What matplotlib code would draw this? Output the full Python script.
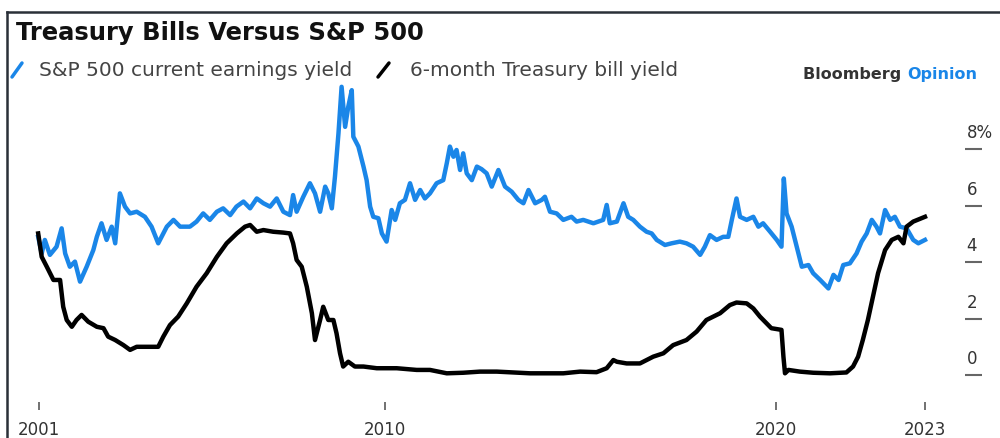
import matplotlib
matplotlib.use("Agg")
import matplotlib.pyplot as plt
from matplotlib.lines import Line2D

plt.rcParams['font.family'] = ['DejaVu Sans']

# S&P 500 current earnings yield (decimal year, %)
spx_year = [2001.13, 2001.22, 2001.30, 2001.43, 2001.60, 2001.73, 2001.82, 2001.94, 2002.07, 2002.20,
            2002.37, 2002.54, 2002.63, 2002.75, 2002.88, 2003.01, 2003.10, 2003.22, 2003.35, 2003.48,
            2003.65, 2003.86, 2004.03, 2004.20, 2004.42, 2004.59, 2004.76, 2005.01, 2005.18, 2005.35,
            2005.52, 2005.70, 2005.86, 2006.04, 2006.20, 2006.38, 2006.55, 2006.72, 2006.89, 2007.06,
            2007.23, 2007.40, 2007.57, 2007.65, 2007.74, 2007.91, 2008.08, 2008.21, 2008.34, 2008.47,
            2008.55, 2008.64, 2008.72, 2008.81, 2008.89, 2008.98, 2009.06, 2009.15, 2009.19, 2009.32,
            2009.45, 2009.53, 2009.62, 2009.70, 2009.83, 2009.92, 2010.04, 2010.17, 2010.26, 2010.38,
            2010.51, 2010.64, 2010.77, 2010.90, 2011.02, 2011.15, 2011.32, 2011.49, 2011.58, 2011.66,
            2011.75, 2011.83, 2011.92, 2012.00, 2012.09, 2012.22, 2012.35, 2012.47, 2012.60, 2012.73,
            2012.90, 2013.07, 2013.24, 2013.41, 2013.54, 2013.67, 2013.84, 2014.01, 2014.09, 2014.22,
            2014.39, 2014.56, 2014.77, 2014.90, 2015.07, 2015.33, 2015.58, 2015.67, 2015.75, 2015.93,
            2016.10, 2016.22, 2016.35, 2016.52, 2016.69, 2016.82, 2016.95, 2017.16, 2017.33, 2017.54,
            2017.71, 2017.88, 2018.06, 2018.18, 2018.31, 2018.48, 2018.65, 2018.78, 2018.87, 2018.99,
            2019.08, 2019.25, 2019.42, 2019.55, 2019.67, 2019.85, 2020.02, 2020.14, 2020.20, 2020.27,
            2020.40, 2020.53, 2020.66, 2020.83, 2020.95, 2021.13, 2021.34, 2021.47, 2021.60, 2021.72,
            2021.89, 2022.06, 2022.19, 2022.32, 2022.45, 2022.57, 2022.66, 2022.79, 2022.92, 2023.04,
            2023.17, 2023.34, 2023.51, 2023.64, 2023.81]
spx_yield = [4.90, 4.31, 4.79, 4.26, 4.55, 5.20, 4.31, 3.84, 4.02, 3.31,
             3.84, 4.43, 4.90, 5.38, 4.79, 5.26, 4.67, 6.44, 5.97, 5.73,
             5.79, 5.61, 5.26, 4.67, 5.26, 5.50, 5.26, 5.26, 5.44, 5.73,
             5.50, 5.79, 5.91, 5.67, 5.97, 6.15, 5.91, 6.26, 6.09, 5.97,
             6.26, 5.79, 5.67, 6.38, 5.79, 6.32, 6.80, 6.44, 5.79, 6.68,
             6.44, 5.91, 7.03, 8.57, 10.22, 8.80, 9.51, 10.10, 8.45, 8.10,
             7.39, 6.91, 5.97, 5.61, 5.56, 5.02, 4.73, 5.85, 5.50, 6.09,
             6.21, 6.80, 6.21, 6.56, 6.26, 6.44, 6.80, 6.91, 7.51, 8.10,
             7.74, 7.98, 7.27, 7.86, 7.15, 6.91, 7.39, 7.30, 7.15, 6.68,
             7.27, 6.68, 6.50, 6.21, 6.09, 6.56, 6.09, 6.21, 6.32, 5.79,
             5.73, 5.50, 5.61, 5.44, 5.50, 5.38, 5.50, 6.03, 5.38, 5.44,
             6.09, 5.61, 5.50, 5.26, 5.08, 5.02, 4.79, 4.61, 4.67, 4.73,
             4.67, 4.55, 4.26, 4.55, 4.96, 4.79, 4.90, 4.90, 5.50, 6.26,
             5.61, 5.50, 5.61, 5.26, 5.38, 5.08, 4.79, 4.55, 6.97, 5.73,
             5.26, 4.55, 3.84, 3.90, 3.61, 3.37, 3.07, 3.55, 3.37, 3.90,
             3.96, 4.31, 4.73, 5.02, 5.50, 5.26, 5.02, 5.85, 5.50, 5.61,
             5.26, 5.20, 4.79, 4.67, 4.79]

# 6-month Treasury bill yield (decimal year, %)
tbill_year = [2001.13, 2001.22, 2001.35, 2001.52, 2001.69, 2001.77, 2001.86, 2001.99, 2002.11, 2002.24,
              2002.41, 2002.63, 2002.80, 2002.92, 2003.10, 2003.31, 2003.48, 2003.65, 2003.90, 2004.20,
              2004.33, 2004.50, 2004.71, 2004.93, 2005.18, 2005.44, 2005.70, 2005.95, 2006.21, 2006.42,
              2006.55, 2006.72, 2006.89, 2007.14, 2007.40, 2007.57, 2007.65, 2007.74, 2007.87, 2008.00,
              2008.13, 2008.21, 2008.34, 2008.42, 2008.55, 2008.68, 2008.76, 2008.85, 2008.93, 2009.06,
              2009.23, 2009.45, 2009.79, 2010.30, 2010.81, 2011.15, 2011.58, 2012.00, 2012.43, 2012.86,
              2013.71, 2014.56, 2014.99, 2015.41, 2015.67, 2015.84, 2015.93, 2016.18, 2016.52, 2016.86,
              2017.12, 2017.37, 2017.71, 2017.97, 2018.22, 2018.57, 2018.82, 2018.99, 2019.25, 2019.42,
              2019.59, 2019.76, 2019.88, 2020.14, 2020.19, 2020.23, 2020.32, 2020.61, 2020.95, 2021.38,
              2021.80, 2021.97, 2022.10, 2022.22, 2022.35, 2022.48, 2022.61, 2022.79, 2022.96, 2023.13,
              2023.26, 2023.34, 2023.51, 2023.81]
tbill_yield = [5.02, 4.19, 3.84, 3.37, 3.37, 2.42, 1.95, 1.71, 1.95, 2.13,
               1.89, 1.71, 1.66, 1.36, 1.24, 1.06, 0.89, 1.00, 1.00, 1.00,
               1.36, 1.77, 2.07, 2.54, 3.13, 3.61, 4.19, 4.67, 5.02, 5.26,
               5.32, 5.08, 5.14, 5.08, 5.05, 5.02, 4.67, 4.08, 3.84, 3.13,
               2.19, 1.24, 1.95, 2.42, 1.95, 1.95, 1.48, 0.77, 0.30, 0.47,
               0.30, 0.30, 0.24, 0.24, 0.18, 0.18, 0.06, 0.08, 0.12, 0.12,
               0.06, 0.06, 0.12, 0.10, 0.24, 0.53, 0.47, 0.41, 0.41, 0.65,
               0.77, 1.06, 1.24, 1.54, 1.95, 2.19, 2.48, 2.57, 2.54, 2.36,
               2.07, 1.83, 1.66, 1.60, 0.65, 0.06, 0.18, 0.12, 0.08, 0.06,
               0.09, 0.30, 0.65, 1.24, 1.95, 2.78, 3.61, 4.43, 4.79, 4.90,
               4.67, 5.26, 5.44, 5.61]

x_ticks = [2001.15, 2010, 2020, 2023.8]
x_labels = ['2001', '2010', '2020', '2023']
y_ticks = [0, 2, 4, 6, 8]
y_labels = ['0', '2', '4', '6', '8%']

BLUE = '#1a86e8'
GRAY = '#444444'

W, H = 1000, 438
fig = plt.figure(figsize=(W / 100, H / 100), dpi=100)
ax = fig.add_axes([30 / W, 1 - 402 / H, (965 - 30) / W, (402 - 80) / H])

ax.plot(spx_year, spx_yield, color=BLUE, lw=3.2, solid_joinstyle='round')
ax.plot(tbill_year, tbill_yield, color='black', lw=3.2, solid_joinstyle='round')

# pixel scale: 2010 at x=385, 39.1 px per year; 0% at y=375, 28.2 px per point
ax.set_xlim(2010 + (30 - 385) / 39.1, 2010 + (965 - 385) / 39.1)
ax.set_ylim((375 - 402) / 28.2, (375 - 80) / 28.2)

for s in ax.spines.values():
    s.set_visible(False)

ax.set_xticks(x_ticks)
ax.set_xticklabels(x_labels)
ax.tick_params(axis='x', direction='out', length=6, width=1.3, color='#666666',
               pad=8, labelsize=12, labelcolor='#333333')

ax.set_yticks(y_ticks)
ax.tick_params(axis='y', left=False, right=True, labelleft=False, labelright=False,
               direction='out', length=12, width=1.5, color='#666666')
for v, lab in zip(y_ticks, y_labels):
    ax.annotate(lab, xy=(1, v), xycoords=('axes fraction', 'data'),
                xytext=(1, 5), textcoords='offset points',
                ha='left', va='bottom', fontsize=12, color='#333333')

# title and legend row
fig.text(16 / W, 1 - 33 / H, 'Treasury Bills Versus S&P 500', fontsize=17.5,
         fontweight='bold', color='#111111', va='center', ha='left')

fig.add_artist(Line2D([12 / W, 22 / W], [1 - 77 / H, 1 - 63 / H], color=BLUE, lw=2.5,
                      solid_capstyle='round'))
fig.text(39 / W, 1 - 70 / H, 'S&P 500 current earnings yield', fontsize=14.5,
         color=GRAY, va='center', ha='left')
fig.add_artist(Line2D([378 / W, 389 / W], [1 - 77 / H, 1 - 63 / H], color='black', lw=2.5,
                      solid_capstyle='round'))
fig.text(410 / W, 1 - 70 / H, '6-month Treasury bill yield', fontsize=14.5,
         color=GRAY, va='center', ha='left')

t = fig.text(803 / W, 1 - 75 / H, 'Bloomberg ', fontsize=11.5, fontweight='bold',
             color='#333333', va='center', ha='left')
fig.canvas.draw()
bb = t.get_window_extent()
fig.text(bb.x1 / W, 1 - 75 / H, 'Opinion', fontsize=11.5, fontweight='bold',
         color=BLUE, va='center', ha='left')

# screenshot frame on top and left
fig.add_artist(Line2D([7 / W, 1], [1 - 12 / H, 1 - 12 / H], color='#2a3038', lw=1.8))
fig.add_artist(Line2D([7 / W, 7 / W], [0, 1 - 12 / H], color='#2a3038', lw=1.8))

fig.savefig('out.png', dpi=100)
